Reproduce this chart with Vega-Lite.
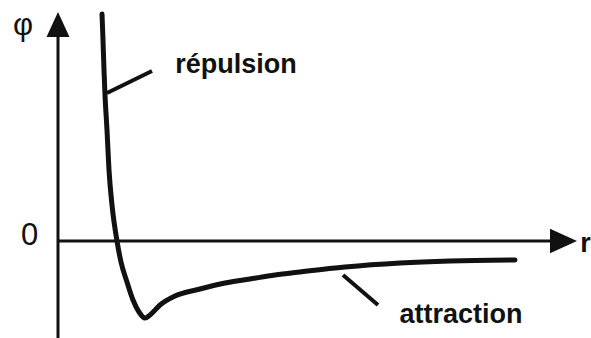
{
  "$schema": "https://vega.github.io/schema/vega-lite/v6.json",
  "width": 591,
  "height": 338,
  "autosize": {"type": "none"},
  "padding": 0,
  "background": "white",
  "config": {"view": {"stroke": null}},
  "datasets": {
    "potential": [
      {"r": 44, "phi": 227}, {"r": 45, "phi": 201}, {"r": 46, "phi": 171},
      {"r": 47, "phi": 146}, {"r": 49, "phi": 111}, {"r": 51, "phi": 71},
      {"r": 54, "phi": 36}, {"r": 59, "phi": 0}, {"r": 63, "phi": -21},
      {"r": 69, "phi": -41}, {"r": 75, "phi": -59}, {"r": 81, "phi": -71},
      {"r": 87, "phi": -77}, {"r": 92, "phi": -74}, {"r": 102, "phi": -64},
      {"r": 117, "phi": -55}, {"r": 142, "phi": -48}, {"r": 167, "phi": -42},
      {"r": 192, "phi": -38}, {"r": 217, "phi": -34}, {"r": 242, "phi": -31},
      {"r": 287, "phi": -26}, {"r": 342, "phi": -22}, {"r": 392, "phi": -20},
      {"r": 457, "phi": -19}
    ],
    "axes": [
      {"axis": "r", "r": 0, "r2": 510, "phi": 0, "phi2": 0},
      {"axis": "phi", "r": 0, "r2": 0, "phi": -97, "phi2": 215}
    ],
    "leaders": [
      {"term": "répulsion", "r": 49, "r2": 94, "phi": 148, "phi2": 170},
      {"term": "attraction", "r": 285, "r2": 320, "phi": -34, "phi2": -64}
    ],
    "terms": [
      {"label": "répulsion", "r": 178, "phi": 168},
      {"label": "attraction", "r": 403, "phi": -82},
      {"label": "r", "r": 527.5, "phi": -11}
    ],
    "symbols": [
      {"label": "φ", "r": -35, "phi": 206},
      {"label": "0", "r": -28.5, "phi": -4}
    ]
  },
  "encoding": {
    "x": {"field": "r", "type": "quantitative", "scale": {"domain": [-58, 533], "nice": false, "zero": false}, "axis": null},
    "y": {"field": "phi", "type": "quantitative", "scale": {"domain": [-97, 241], "nice": false, "zero": false}, "axis": null}
  },
  "layer": [
    {
      "data": {"name": "axes"},
      "mark": {"type": "rule", "color": "#111", "strokeWidth": 3},
      "encoding": {"x2": {"field": "r2"}, "y2": {"field": "phi2"}}
    },
    {
      "data": {"values": [{"r": 0, "phi": 216.5}]},
      "mark": {"type": "point", "shape": "M0,-1L-0.92,1L0.92,1Z", "size": 625, "filled": true, "color": "#111", "opacity": 1, "strokeWidth": 0}
    },
    {
      "data": {"values": [{"r": 505.5, "phi": 0}]},
      "mark": {"type": "point", "shape": "M1,0L-1,-0.9L-1,0.9Z", "size": 729, "filled": true, "color": "#111", "opacity": 1, "strokeWidth": 0}
    },
    {
      "data": {"name": "potential"},
      "mark": {"type": "line", "color": "#111", "strokeWidth": 5, "interpolate": "monotone", "strokeCap": "round", "strokeJoin": "round"}
    },
    {
      "data": {"name": "leaders"},
      "mark": {"type": "rule", "color": "#111", "strokeWidth": 4},
      "encoding": {"x2": {"field": "r2"}, "y2": {"field": "phi2"}}
    },
    {
      "data": {"name": "terms"},
      "mark": {"type": "text", "font": "Liberation Sans", "fontWeight": "bold", "fontSize": 27, "align": "center", "baseline": "alphabetic", "color": "#111"},
      "encoding": {"text": {"field": "label"}}
    },
    {
      "data": {"name": "symbols"},
      "mark": {"type": "text", "font": "Liberation Sans", "fontSize": 31, "align": "center", "baseline": "alphabetic", "color": "#111"},
      "encoding": {"text": {"field": "label"}}
    }
  ]
}
